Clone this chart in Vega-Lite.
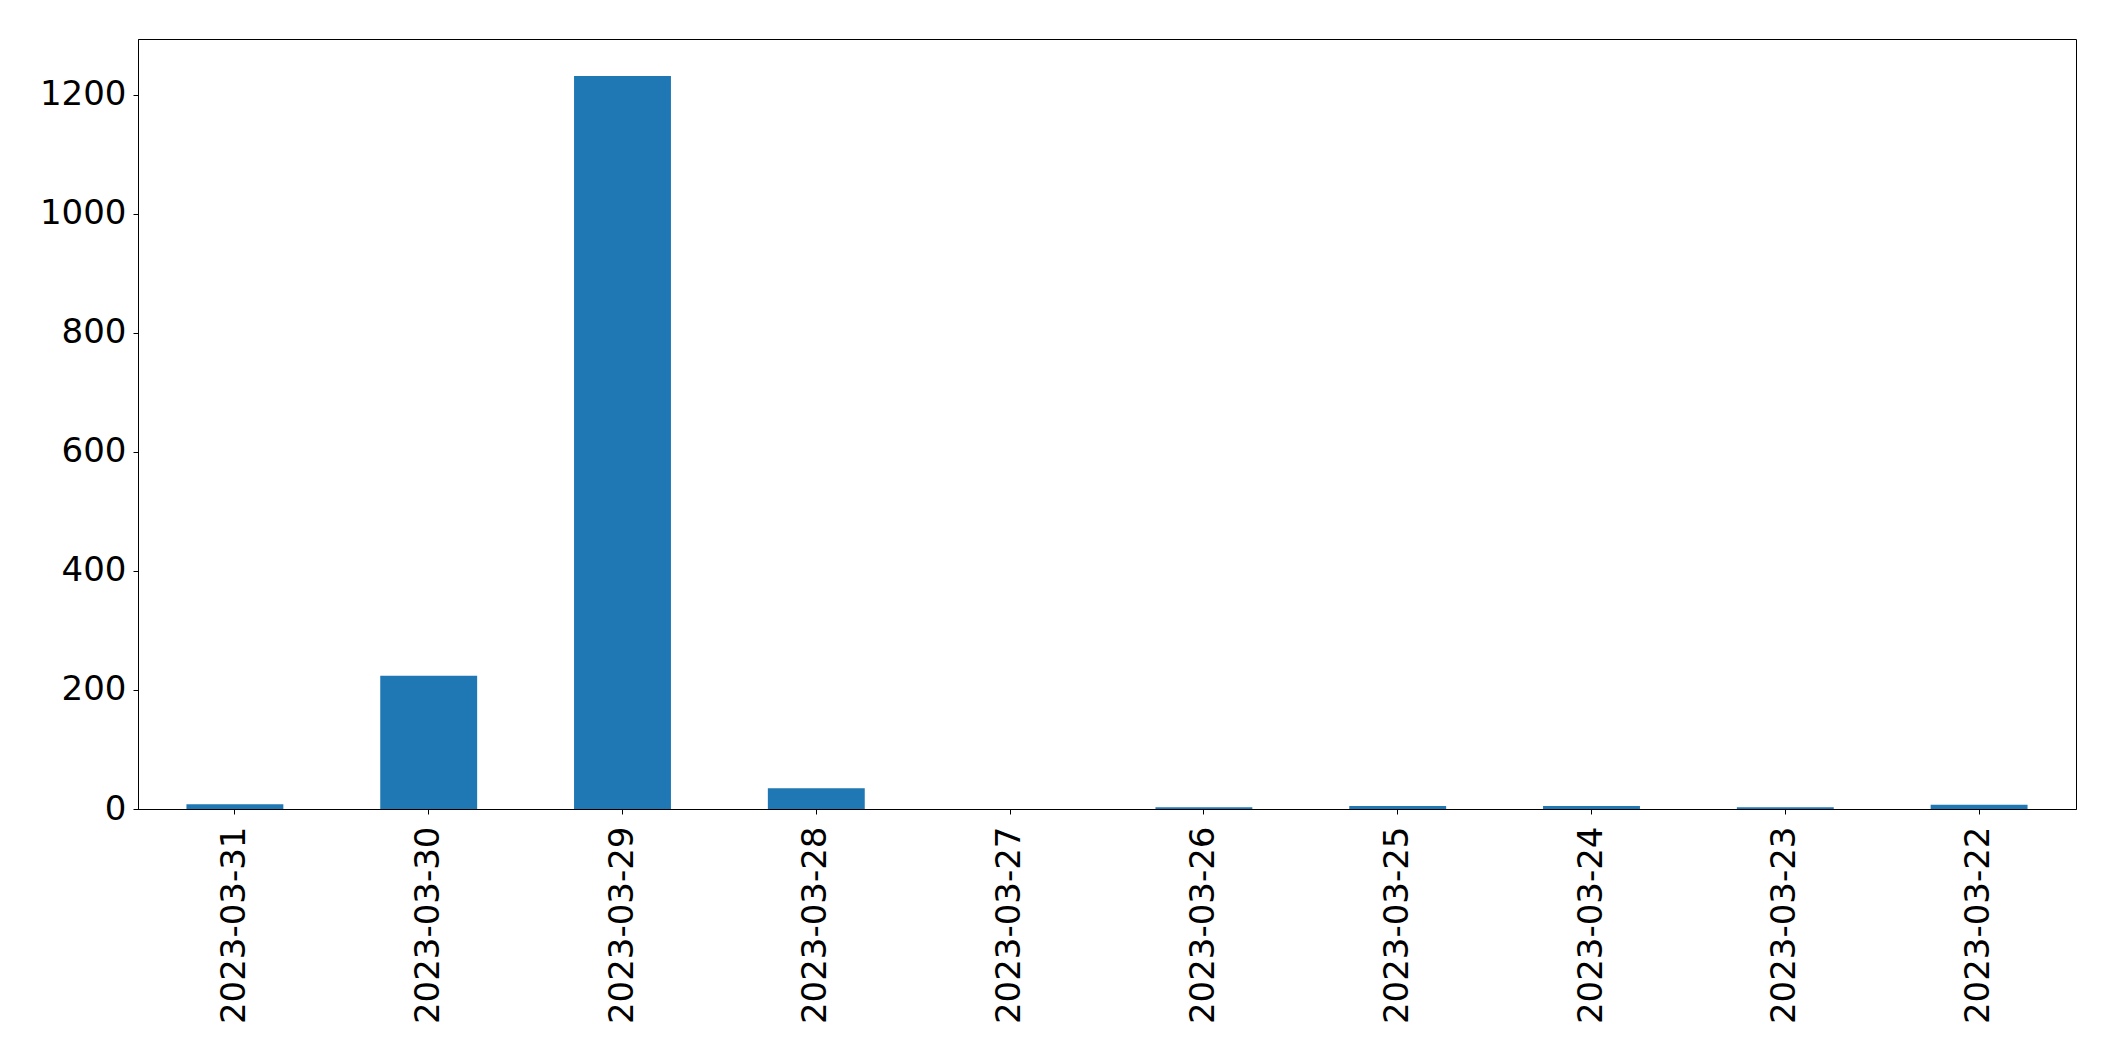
{
  "$schema": "https://vega.github.io/schema/vega-lite/v6.json",
  "autosize": {"type": "none"},
  "padding": {"left": 138, "top": 39, "right": 39, "bottom": 252},
  "width": 1938,
  "height": 770,
  "background": "white",
  "data": {
    "values": [
      {"date": "2023-03-31", "count": 8},
      {"date": "2023-03-30", "count": 224},
      {"date": "2023-03-29", "count": 1232},
      {"date": "2023-03-28", "count": 35},
      {"date": "2023-03-27", "count": 0},
      {"date": "2023-03-26", "count": 3},
      {"date": "2023-03-25", "count": 5},
      {"date": "2023-03-24", "count": 5},
      {"date": "2023-03-23", "count": 3},
      {"date": "2023-03-22", "count": 7}
    ]
  },
  "mark": {"type": "bar", "color": "#1f77b4"},
  "encoding": {
    "x": {
      "field": "date",
      "type": "nominal",
      "sort": null,
      "scale": {"paddingInner": 0.5, "paddingOuter": 0.25},
      "axis": {
        "title": null,
        "labelAngle": -90,
        "labelFontSize": 34,
        "labelFont": "DejaVu Sans",
        "labelColor": "black",
        "labelPadding": 12,
        "labelLimit": 0,
        "tickSize": 5,
        "tickColor": "black",
        "domainColor": "black",
        "labelBaseline": "middle",
        "labelAlign": "right"
      }
    },
    "y": {
      "field": "count",
      "type": "quantitative",
      "scale": {"domain": [0, 1294], "nice": false},
      "axis": {
        "title": null,
        "values": [0, 200, 400, 600, 800, 1000, 1200],
        "format": "d",
        "grid": false,
        "labelFontSize": 34,
        "labelFont": "DejaVu Sans",
        "labelColor": "black",
        "labelPadding": 7,
        "tickSize": 5,
        "tickColor": "black",
        "domainColor": "black"
      }
    }
  },
  "config": {
    "view": {"stroke": "black", "strokeWidth": 1}
  }
}
